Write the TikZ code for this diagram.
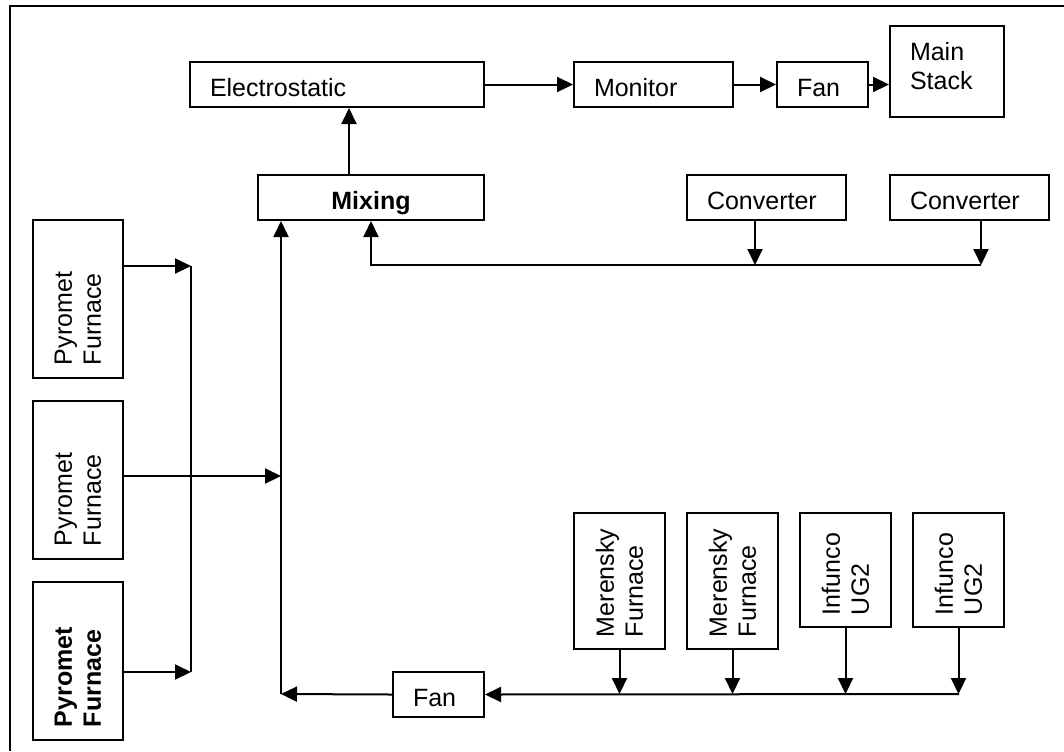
\documentclass[tikz,border=0pt]{standalone}
\usepackage{fontspec}
\setmainfont{Liberation Sans}
\usepackage{graphicx}
\usepackage{tikz}
\usetikzlibrary{positioning,arrows.meta}
\tikzset{every picture/.style={line width=1pt}}
\tikzset{
	box/.style={draw, inner xsep=10pt, inner ysep=0pt, minimum height=22.5pt,
		text height=12pt, text depth=0pt, align=left,
		font=\fontsize{12.5}{14.5}\selectfont},
	vbox/.style={draw, inner sep=0pt, font=\fontsize{12.5}{14.5}\selectfont},
	arr/.style={-{Triangle[length=8pt,width=7.5pt]}}
}
\newcommand{\vlabel}[2]{\rotatebox{90}{\parbox{#1}{\raggedright #2}}}

\begin{document}
\begin{tikzpicture}[x=0.5pt,y=-0.5pt]
\useasboundingbox (0,0) rectangle (1064,751);
\draw (10,751) -- (10,6) -- (1064,6);
%
\node[box, text width=127pt] (elec) at (337,84.5) {Electrostatic};
\node[box, text width=59.5pt] (monitor) at (653.5,84.5) {Monitor};
\node[box, text width=25.5pt] (fantop) at (822.5,84.5) {Fan};
\node[box, text width=37pt, minimum height=45.5pt, text depth=23.5pt] (stack) at (947,71.5) {Main\\Stack};
%
\node[box, text width=93pt, align=center, font=\fontsize{12.5}{14.5}\selectfont\bfseries] (mixing) at (371,197.5) {Mixing};
\node[box, text width=59.5pt] (conv1) at (766.5,197.5) {Converter};
\node[box, text width=59.5pt] (conv2) at (969.5,197.5) {Converter};
%
\node[vbox, minimum width=45pt, minimum height=79pt] (pyro1) at (78,299) {\vlabel{66pt}{Pyromet\\Furnace}};
\node[vbox, minimum width=45pt, minimum height=79pt] (pyro2) at (78,480) {\vlabel{66pt}{Pyromet\\Furnace}};
\node[vbox, minimum width=45pt, minimum height=79pt] (pyro3) at (78,661) {\vlabel{66pt}{\bfseries Pyromet\\Furnace}};
%
\node[box, text width=25.5pt] (fanbot) at (438.5,694.5) {Fan};
\node[vbox, minimum width=45.5pt, minimum height=68pt] (mer1) at (619.5,581) {\vlabel{56pt}{Merensky\\Furnace}};
\node[vbox, minimum width=45.5pt, minimum height=68pt] (mer2) at (732.5,581) {\vlabel{56pt}{Merensky\\Furnace}};
\node[vbox, minimum width=45.5pt, minimum height=57pt] (inf1) at (845.5,570) {\vlabel{45pt}{Infunco\\UG2}};
\node[vbox, minimum width=45.5pt, minimum height=57pt] (inf2) at (958.5,570) {\vlabel{45pt}{Infunco\\UG2}};
%
\coordinate (jc1) at (755,265);
\coordinate (jc2) at (981,265);
\coordinate (jmx) at (371,265);
\coordinate (jp1) at (191,266);
\coordinate (jp2) at (281,476);
\coordinate (jp3) at (191,672);
\coordinate (jfan) at (281,694);
\coordinate (jb) at (959,694);
%
\draw[arr] (elec.east) -- (monitor.west);
\draw[arr] (monitor.east) -- (fantop.west);
\draw[arr] (fantop.east) -- (fantop.east -| stack.west);
\draw[arr] ([xshift=-11pt]mixing.north) -- ([xshift=-11pt]mixing.north |- elec.south);
%
\draw[arr] (conv1.south -| jc1) -- (jc1);
\draw[arr] (conv2.south -| jc2) -- (jc2);
\draw[arr] (jc2) -- (jmx) -- (mixing.south);
%
\draw[arr] (pyro1.east |- jp1) -- (jp1);
\draw[arr] (pyro3.east |- jp3) -- (jp3);
\draw (jp1) -- (jp3);
\draw[arr] (pyro2.east |- jp2) -- (jp2);
%
\foreach \Box in {mer1,mer2,inf1,inf2}
\draw[arr] (\Box.south) -- (\Box.south |- jb);
\draw[arr] (jb) -- (fanbot.east);
\draw[arr] (fanbot.west) -- (jfan);
\draw[arr] (jfan) -- (jfan |- mixing.south);
\end{tikzpicture}
\end{document}
